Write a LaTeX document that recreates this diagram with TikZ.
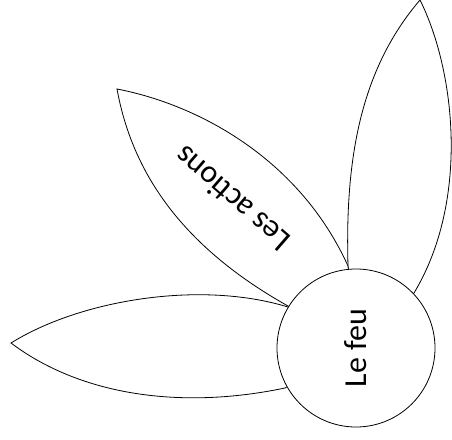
\documentclass[tikz,border=0pt]{standalone}
\usepackage{fontspec}
\setmainfont{Carlito}
\usepackage{xcolor}
\usepackage{tikz}
\usetikzlibrary{positioning}
\definecolor{Ink}{HTML}{000000}

\begin{document}
\begin{tikzpicture}[
    x=1pt, y=-1pt,
    petal/.style={draw=Ink, fill=white, line width=0.8pt},
    bigtext/.style={font=\fontsize{32}{38}\selectfont}
  ]
  \useasboundingbox (0,0) rectangle (452,439);
  \coordinate (c) at (356,348);
  \coordinate (tipR) at (420,0);
  \coordinate (tipM) at (117,89);
  \coordinate (tipL) at (11,343);

  % petals
  \draw[petal] (c) -- (348,266) .. controls (345,160) and (360,70) .. (tipR)
    .. controls (455,70) and (470,200) .. (414,293) -- cycle;
  \draw[petal] (c) -- (288,306) .. controls (170,240) and (130,160) .. (tipM)
    .. controls (200,105) and (300,160) .. (348,266) -- cycle;
  \draw[petal] (c) -- (285,388) .. controls (180,410) and (80,395) .. (tipL)
    .. controls (80,300) and (200,280) .. (288,307) -- cycle;

  \node[
    circle,
    draw=Ink,
    fill=white,
    line width=0.8pt,
    minimum size=158pt,
    inner sep=0pt,
    bigtext,
    rotate=90
  ] (feu) at (c) {Le feu};
  \node[bigtext, rotate=139] (actions) at (232,199) {Les actions};
\end{tikzpicture}
\end{document}
